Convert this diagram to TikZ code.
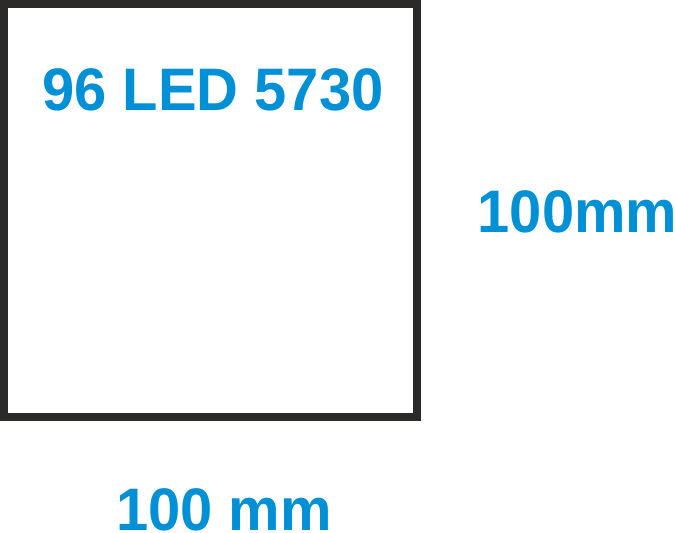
\documentclass[tikz,border=0pt]{standalone}
\usepackage{fontspec}
\setmainfont{Liberation Sans}
\definecolor{ledblue}{HTML}{0090D5}
\definecolor{frame}{HTML}{2B2A29}
\begin{document}
\begin{tikzpicture}[x=1pt,y=1pt,
  lbl/.style={text=ledblue,font=\fontsize{60}{60}\selectfont\bfseries,inner sep=0pt,anchor=base,xscale=0.965}]
\useasboundingbox (0,0) rectangle (675,533);
\draw[frame,line width=8pt] (4,529) rectangle (417,116);
\node[lbl] (title) at (213,422) {96 LED 5730};
\node[lbl] (h) at (577.5,300.3) {100mm};
\node[lbl] (w) at (224,2) {100 mm};
\end{tikzpicture}
\end{document}
